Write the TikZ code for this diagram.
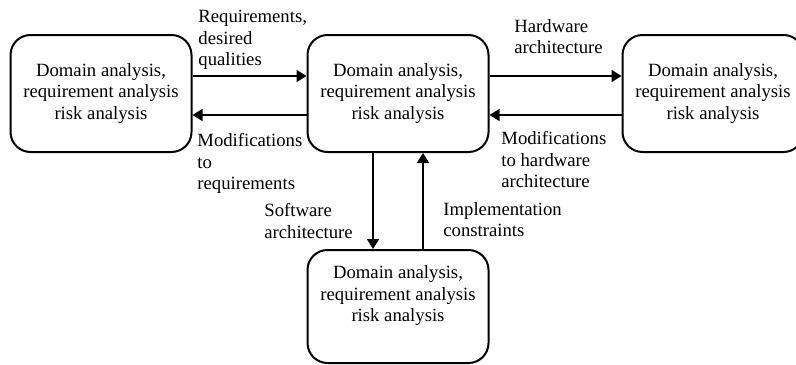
\documentclass[tikz,border=0pt]{standalone}
\usepackage{fontspec}
\setmainfont{Liberation Serif}
\usetikzlibrary{arrows.meta, positioning, calc}
\tikzset{
    block/.style={draw, line width=1pt, rounded corners=10pt,
                  minimum width=90.5pt, minimum height=58.5pt,
                  align=center, inner sep=0pt},
    flow/.style={-{Triangle[length=5pt, width=6pt]}, line width=0.8pt},
    note/.style={anchor=north west, align=left, inner sep=0pt},
}
\begin{document}
\begin{tikzpicture}[x=0.5pt, y=-0.5pt,
    every node/.append style={font=\fontsize{9.35}{10.75}\selectfont}]
    \useasboundingbox (0,0) rectangle (796,364);
    % boxes
    \node[block] (mid) at (398,93.5)
        {Domain analysis,\\requirement analysis\\risk analysis};
    \node[block, left=57pt of mid] (dom)
        {Domain analysis,\\requirement analysis\\risk analysis};
    \node[block, right=66pt of mid] (hw)
        {Domain analysis,\\requirement analysis\\risk analysis};
    \node[block, minimum height=56.5pt, below=48pt of mid] (sw) {};
    \node[align=center, inner sep=0pt] (swtext) at ([yshift=5.25pt]sw.center)
        {Domain analysis,\\requirement analysis\\risk analysis};
    % connectors
    \draw[flow] ([yshift=8.75pt]dom.east) -- ([yshift=8.75pt]mid.west);
    \draw[flow] ([yshift=-10.75pt]mid.west) -- ([yshift=-10.75pt]dom.east);
    \draw[flow] ([yshift=8.75pt]mid.east) -- ([yshift=8.75pt]hw.west);
    \draw[flow] ([yshift=-10.75pt]hw.west) -- ([yshift=-10.75pt]mid.east);
    \draw[flow] ([xshift=-12.5pt]mid.south) -- ([xshift=-12.5pt]sw.north);
    \draw[flow] ([xshift=12.5pt]sw.north) -- ([xshift=12.5pt]mid.south);
    % labels
    \node[note] (req) at (198,10) {Requirements,\\desired\\qualities};
    \node[note] (modreq) at (197,133) {Modifications\\to\\requirements};
    \node[note] (hwarch) at (514,19) {Hardware\\architecture};
    \node[note] (modhw) at (501,131) {Modifications\\to hardware\\architecture};
    \node[note] (swarch) at (264,203) {Software\\architecture};
    \node[note] (impl) at (443,202) {Implementation\\constraints};
\end{tikzpicture}
\end{document}
